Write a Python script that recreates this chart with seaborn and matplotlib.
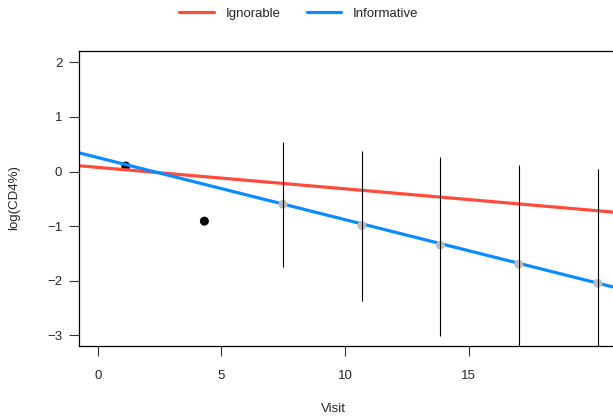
import pandas as pd
import matplotlib.pyplot as plt
import seaborn as sns

# fitted lines, read at two x positions
line_x = [-1, 22]
ignorable_y = [0.115, -0.79]
informative_y = [0.37, -2.25]

# observed points
obs_visit = [1.13, 4.31]
obs_value = [0.10, -0.91]

# predicted points with intervals
pred_visit = [7.49, 10.68, 13.85, 17.02, 20.22]
pred_mean = [-0.60, -0.99, -1.35, -1.70, -2.05]
pred_lower = [-1.75, -2.37, -3.01, -3.53, -4.14]
pred_upper = [0.535, 0.37, 0.26, 0.125, 0.04]

sns.set_style("ticks")
plt.rcParams['font.family'] = ['Liberation Sans', 'DejaVu Sans']
plt.rcParams['axes.unicode_minus'] = True

lines = pd.DataFrame({
    'Visit': line_x * 2,
    'value': ignorable_y + informative_y,
    'model': ['Ignorable'] * 2 + ['Informative'] * 2,
})
obs = pd.DataFrame({'Visit': obs_visit, 'value': obs_value})
pred = pd.DataFrame({'Visit': pred_visit, 'value': pred_mean,
                     'lo': pred_lower, 'hi': pred_upper})

W, H = 613, 419
fig = plt.figure(figsize=(W / 100, H / 100), dpi=100)
# plot box runs past the right edge of the picture
left, right, top, bottom = 79, 630, 51, 346
ax = fig.add_axes([left / W, 1 - bottom / H, (right - left) / W, (bottom - top) / H])

sns.scatterplot(data=obs, x='Visit', y='value', color='black', s=42,
                edgecolor='none', ax=ax, zorder=1)
sns.lineplot(data=lines, x='Visit', y='value', hue='model',
             palette={'Ignorable': '#FF4B3A', 'Informative': '#0A8CFF'},
             linewidth=2.3, ax=ax, zorder=2, legend=False)
sns.scatterplot(data=pred, x='Visit', y='value', color='#BEBEBE', s=42,
                edgecolor='none', ax=ax, zorder=3)
ax.vlines(pred['Visit'], pred['lo'], pred['hi'], color='black', linewidth=0.8, zorder=4)

ax.set_xlim(-0.76, 21.52)
ax.set_ylim(-3.20, 2.21)
ax.set_xticks([0, 5, 10, 15])
ax.set_yticks([-3, -2, -1, 0, 1, 2])
ax.set_xlabel('')
ax.set_ylabel('')
ax.tick_params(axis='x', length=7, width=0.8, pad=10, labelsize=9.5, color='#333333')
ax.tick_params(axis='y', length=7, width=0.8, pad=5, labelsize=9.5, color='#333333')
for s in ax.spines.values():
    s.set_linewidth(0.9)
    s.set_color('black')

fig.text(333 / W, 1 - 409 / H, 'Visit', ha='center', va='center', fontsize=9.5)
fig.text(14 / W, 1 - 198 / H, 'log(CD4%)', ha='center', va='center',
         rotation=90, fontsize=9.5)

handles = [plt.Line2D([], [], color='#FF4B3A', lw=2.3),
           plt.Line2D([], [], color='#0A8CFF', lw=2.3)]
fig.legend(handles, ['Ignorable', 'Informative'], loc='center',
           bbox_to_anchor=(299 / W, 1 - 14 / H), ncol=2, frameon=False,
           fontsize=9.5, handlelength=2.6, columnspacing=2.0, handletextpad=0.9)

fig.savefig('out.png', dpi=100)
plt.close(fig)
